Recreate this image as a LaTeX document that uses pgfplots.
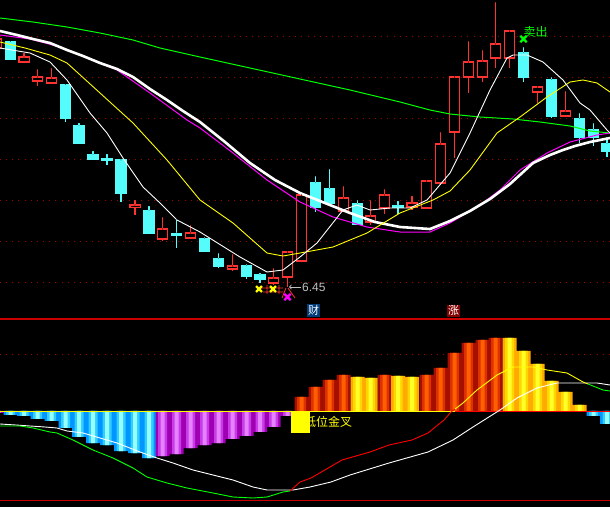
\documentclass[border=0pt]{standalone}
\usepackage{pgfplots}
\pgfplotsset{compat=1.18}
\usepackage{pgfplotstable}
\usepackage{fontspec}
\setmainfont{Liberation Sans}
\newfontfamily\cjk{Noto Sans CJK SC}
\definecolor{cred}{HTML}{FF3232}
\definecolor{ccyan}{HTML}{54FCFC}
\definecolor{gridred}{HTML}{A00000}
\definecolor{lgreen}{HTML}{00FF00}
\definecolor{lmag}{HTML}{FF00FF}
\definecolor{lyel}{HTML}{FFFF00}
\definecolor{cyE}{RGB}{0,150,255}\definecolor{cyM}{RGB}{50,205,255}\definecolor{cyC}{RGB}{150,255,255}
\definecolor{mgE}{RGB}{160,0,180}\definecolor{mgM}{RGB}{200,60,230}\definecolor{mgC}{RGB}{230,130,255}
\definecolor{rdE}{RGB}{165,15,0}\definecolor{rdM}{RGB}{220,50,0}\definecolor{rdC}{RGB}{255,95,0}
\definecolor{ywE}{RGB}{255,170,0}\definecolor{ywM}{RGB}{255,215,0}\definecolor{ywC}{RGB}{255,255,40}

% candles: x(pixel centre), body top, body bottom, high, low (pixel rows)
\pgfplotstableread{
x top bot hi lo
-3.3 39 48 39 48
24 57 62 53 62
37.5 77 81 69 86
51.5 78 83 68 83
135 205 207 200 215
162.5 229 239 217 241
190.5 233 238 225 239
232.5 266 269 254 271
273.5 278 283 268 285
287.5 252 277 252 287
301.5 195 261 195 261
343.5 198 211 186 211
370.5 216 222 200 225
384.5 195 208 189 214
412 203 207 196 210
426.5 181 208 181 208
440.5 144 183 132 183
454.5 77 132 77 158
468.5 62 77 41 93
482.5 61 77 50 82
495.5 44 58 2 68
509.5 31 58 31 68
537.5 87 92 87 103
565.5 111 116 91 116
}\redc
\pgfplotstableread{
x top bot hi lo
10.5 42 59 41 60
65.5 85 118 84 122
79 126 143 123 143
93 155 159 151 160
107 158.5 160 154 165
121 160 193 160 202
149 211 233 206 234
176.5 233.5 235 219 248
204.5 239 251 237 252
218.5 259 266 253 268
246.5 266 276 264 279
260 275 279 273 283
315.5 183 207 176 212
329.5 189 203 169 206
357.5 204 224 200 224
398 205.5 207 201 214
523.5 53 77 47 82
551.5 80 116 77 118
579.5 119 137 113 143
593.5 130 137 123 146
607 144 151 137 157
}\cyanc
% histogram groups: x, value (zero line = 0)
\pgfplotstableread{
x v
10.5 -4
24 -5
37.5 -8
51.5 -10
65.5 -17
79 -26
93 -32
107 -34
121 -40
135 -42
149 -47
593.5 -5
607 -13
}\hcyan
\pgfplotstableread{
x v
-3.3 -2
162.5 -45
176.5 -43
190.5 -37
204.5 -34
218.5 -32
232.5 -28
246.5 -25
260 -21
273.5 -16
287.5 -5
}\hmag
\pgfplotstableread{
x v
301.5 14
315.5 24
329.5 31
343.5 36
384.5 36
426.5 36
440.5 43
454.5 58
468.5 68
482.5 71
495.5 73
}\hred
\pgfplotstableread{
x v
357.5 34
370.5 33
398 35
412 34
509.5 73
523.5 60
537.5 47
551.5 30
565.5 19
579.5 6
}\hyel

\pgfplotsset{
  nomark/.style={only marks, mark=*, mark size=0.01pt, mark options={draw=none, fill=none}},
  seg/.style={nomark, error bars/.cd, y dir=plus, y explicit, error mark=none},
}

\begin{document}
\begin{tikzpicture}
\useasboundingbox[fill=black] (0,0) rectangle (610pt,507pt);
% ---------------- upper panel ----------------
\begin{axis}[at={(0,189pt)}, anchor=south west, scale only axis,
  width=610pt, height=318pt, xmin=0, xmax=610, ymin=0, ymax=318, y dir=reverse,
  axis line style={draw=none}, xtick=\empty, ytick={36,77,118,159,200,241,282},
  yticklabels={}, major tick length=0pt, ymajorgrids,
  grid style={gridred, line width=0.8pt, dash pattern=on 0.9pt off 5.25pt}]
% wicks
\addplot[seg, error bar style={cred, line width=1.1pt}]
  table[x=x, y=hi, y error expr={\thisrow{lo}-\thisrow{hi}}] {\redc};
\addplot[seg, error bar style={ccyan, line width=1.1pt}]
  table[x=x, y=hi, y error expr={\thisrow{lo}-\thisrow{hi}}] {\cyanc};
% bodies
\addplot[seg, error bar style={cred, line width=11.4pt}]
  table[x=x, y expr={\thisrow{top}-0.6}, y error expr={\thisrow{bot}-\thisrow{top}+1.2}] {\redc};
\addplot[seg, error bar style={black, line width=9.0pt}]
  table[x=x, y expr={\thisrow{top}+0.6}, y error expr={max(\thisrow{bot}-\thisrow{top}-1.2,0)}] {\redc};
\addplot[seg, error bar style={ccyan, line width=11.4pt}]
  table[x=x, y expr={\thisrow{top}-0.6}, y error expr={\thisrow{bot}-\thisrow{top}+1.2}] {\cyanc};
% moving averages
\addplot[lgreen, line width=1pt] coordinates {(0,18)(33,22)(67,27)(100,33)(133,40)(160,48)(200,57)(250,68)(300,79)(350,90)(400,102)(430,110)(450,114)(480,117)(513,119)(540,122)(570,126)(590,131)(610,133)};
\addplot[lmag, line width=1pt] coordinates {(0,35)(30,39)(60,47)(80,55)(100,63)(117,70)(150,93)(187,120)(200,128)(233,153)(267,180)(300,202)(333,217)(367,227)(400,232)(430,232)(450,223)(480,205)(500,190)(520,170)(547,153)(570,142)(597,135)(610,133)};
\addplot[white, line width=2.6pt] coordinates {(0,31)(17,35)(33,39)(50,43)(67,50)(83,56)(100,63)(117,69)(133,77)(150,89)(167,100)(183,111)(200,122)(225,142)(250,163)(275,180)(300,193)(325,203)(350,213)(375,222)(400,227)(430,229)(450,221)(470,211)(490,199)(510,184)(533,163)(550,155)(563,150)(575,146)(590,142)(610,138)};
\addplot[lyel, line width=0.9pt] coordinates {(0,42)(25,48)(50,55)(67,63)(100,93)(133,123)(167,160)(200,200)(233,223)(267,253)(283,256)(300,253)(333,247)(350,240)(367,233)(400,213)(433,200)(450,191)(470,170)(497,133)(520,117)(547,97)(570,82)(583,80)(597,83)(610,92)};
\addplot[white, line width=0.9pt] coordinates {(0,48)(30,53)(50,62)(67,80)(90,113)(107,133)(123,158)(143,187)(160,203)(177,220)(200,232)(240,257)(267,272)(283,270)(300,257)(317,243)(343,210)(357,205)(370,210)(390,208)(410,208)(427,200)(450,173)(470,133)(490,90)(507,58)(513,55)(527,55)(543,62)(563,80)(580,103)(590,110)(607,130)(610,133)};
% small red strokes under the low
\addplot[cred, line width=0.8pt, unbounded coords=jump] coordinates {(261,288)(283,288)(nan,nan)(263,292)(283,292)(nan,nan)(267,285)(267,294)(nan,nan)(279,285)(279,294)(nan,nan)(286,288)(282,298)(nan,nan)(288,288)(295,298)};
% signal marks
\addplot[only marks, mark=x, mark size=4.2pt, line width=2.2pt, lyel] coordinates {(259,289)(273,289)};
\addplot[only marks, mark=x, mark size=4.5pt, line width=2.2pt, lmag] coordinates {(287.5,297)};
\addplot[only marks, mark=x, mark size=4.5pt, line width=2.4pt, lgreen] coordinates {(523.5,39)};
\addplot[lightgray, line width=0.8pt, ->] coordinates {(301,287)(289,287)};
\node[anchor=west, text=lightgray, font=\fontsize{12}{12}\selectfont, inner sep=0pt] at (axis cs:302,287) {6.45};
\node[text=lgreen, font=\cjk\fontsize{12}{12}\selectfont, inner sep=0pt] at (axis cs:535.5,31.5) {卖出};
\node[fill={rgb,255:red,0;green,60;blue,120}, text=white, font=\cjk\fontsize{11}{11}\selectfont, inner sep=1pt] at (axis cs:313.5,310.5) {财};
\node[fill={rgb,255:red,130;green,0;blue,0}, text=white, font=\cjk\fontsize{11}{11}\selectfont, inner sep=1pt] at (axis cs:453.5,310.5) {涨};
\end{axis}
% ---------------- lower panel ----------------
\begin{axis}[at={(0,0)}, anchor=south west, scale only axis,
  width=610pt, height=189pt, xmin=0, xmax=610, ymin=-96, ymax=93,
  axis line style={draw=none}, xtick=\empty, ytick={57},
  yticklabels={}, major tick length=0pt, ymajorgrids,
  grid style={gridred, line width=0.8pt, dash pattern=on 0.9pt off 5.25pt}]
\addplot[ybar, bar width=14pt, draw=none, fill=cyE] table[x=x,y=v] {\hcyan};
\addplot[ybar, bar width=9pt, draw=none, fill=cyM] table[x=x,y=v] {\hcyan};
\addplot[ybar, bar width=4pt, draw=none, fill=cyC] table[x=x,y=v] {\hcyan};
\addplot[ybar, bar width=14pt, draw=none, fill=mgE] table[x=x,y=v] {\hmag};
\addplot[ybar, bar width=9pt, draw=none, fill=mgM] table[x=x,y=v] {\hmag};
\addplot[ybar, bar width=4pt, draw=none, fill=mgC] table[x=x,y=v] {\hmag};
\addplot[ybar, bar width=14pt, draw=none, fill=rdE] table[x=x,y=v] {\hred};
\addplot[ybar, bar width=9pt, draw=none, fill=rdM] table[x=x,y=v] {\hred};
\addplot[ybar, bar width=4pt, draw=none, fill=rdC] table[x=x,y=v] {\hred};
\addplot[ybar, bar width=14pt, draw=none, fill=ywE] table[x=x,y=v] {\hyel};
\addplot[ybar, bar width=9pt, draw=none, fill=ywM] table[x=x,y=v] {\hyel};
\addplot[ybar, bar width=4pt, draw=none, fill=ywC] table[x=x,y=v] {\hyel};
\addplot[lyel, line width=0.8pt] coordinates {(0,0)(455,0)};
\addplot[red, line width=0.8pt] coordinates {(455,0)(610,0)};
% lines
\addplot[white, line width=0.9pt] coordinates {(0,-13)(16,-14)(30,-15)(45,-16)(57,-17)(67,-20)(83,-22)(100,-27)(117,-32)(140,-41)(157,-47)(173,-52)(193,-59)(213,-64)(233,-69)(253,-76)(267,-79)(293,-79)(310,-76)(331,-71)(350,-64)(389,-52)(428,-41)(453,-29)(473,-16)(500,1)(517,13)(537,23)(557,28)(583,28)(597,28)(610,26)};
\addplot[lgreen, line width=0.9pt] coordinates {(0,-15)(20,-15)(33,-17)(50,-21)(57,-22)(73,-29)(93,-39)(113,-47)(133,-57)(147,-66)(167,-72)(187,-77)(213,-82)(233,-86)(253,-87)(267,-86)(283,-81)(290,-80)};
\addplot[red, line width=0.9pt] coordinates {(290,-80)(300,-71)(311,-67)(342,-49)(370,-41)(389,-34)(412,-29)(428,-22)(444,-9)(451,-1)(455,2)};
\addplot[lyel, line width=0.9pt] coordinates {(455,2)(463,8)(477,21)(497,36)(513,44)(533,44)(547,41)(567,38)(583,29)(588,27)};
\addplot[lgreen, line width=0.9pt] coordinates {(588,27)(603,21)(610,20)};
\node[anchor=west, text=lyel, font=\cjk\fontsize{12}{12}\selectfont, inner sep=0pt] at (axis cs:304,-11) {低位金叉};
\addplot[ybar, bar width=19pt, fill=lyel, draw=none] coordinates {(300.5,-22)};
\addplot[red!80!black, line width=1.2pt] coordinates {(0,92)(610,92)};
\addplot[red!80!black, line width=1.2pt] coordinates {(0,-89.5)(610,-89.5)};
\end{axis}
\end{tikzpicture}
\end{document}
